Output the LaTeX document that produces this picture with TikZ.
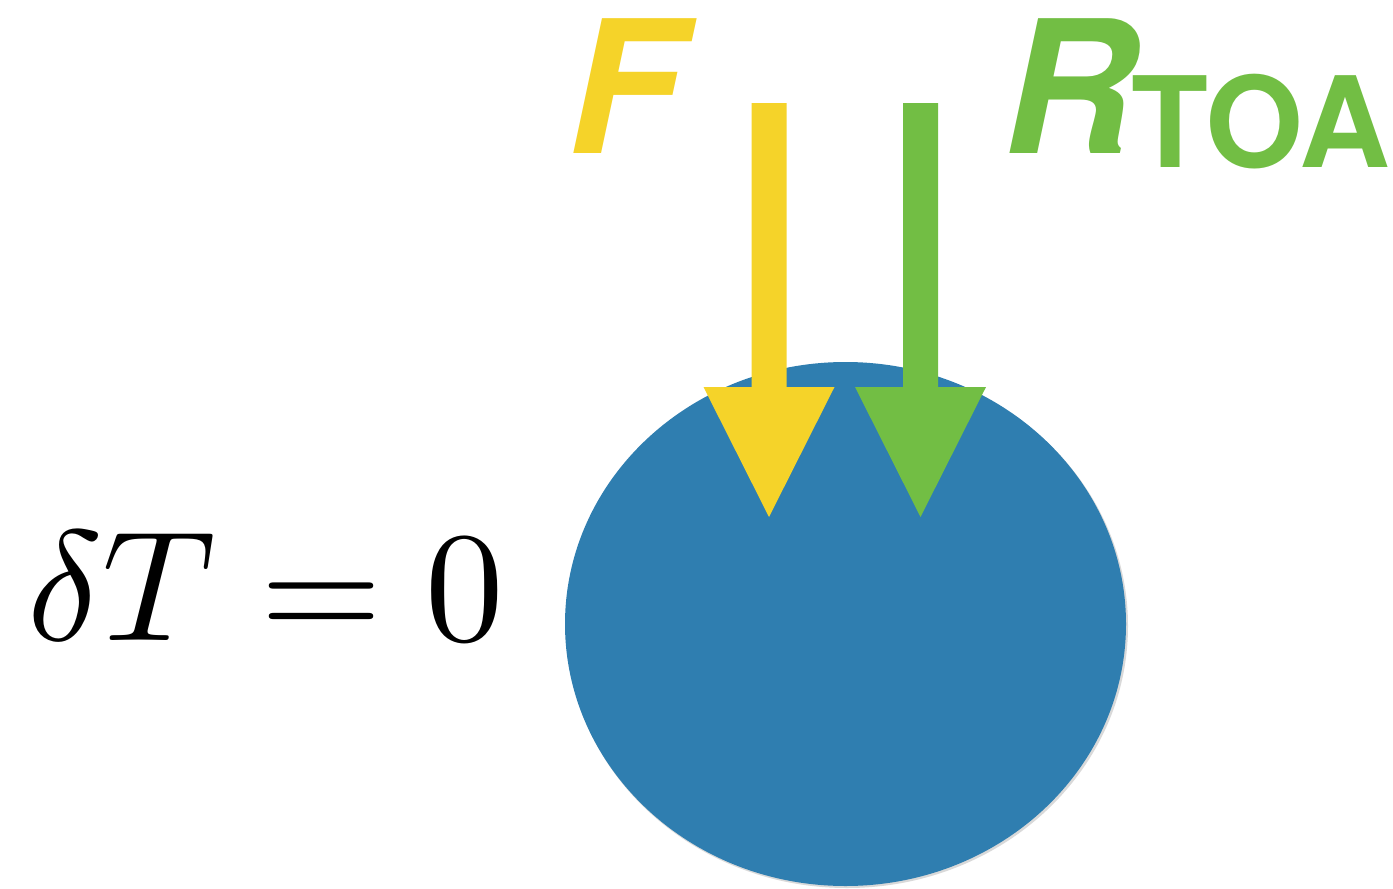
\documentclass[tikz,border=0pt]{standalone}
\usepackage{graphicx}
\usepackage{fontspec}
\newfontfamily\hsans{TeX Gyre Heros}
\usetikzlibrary{calc}
\definecolor{ballblue}{RGB}{47,126,176}
\definecolor{fyellow}{RGB}{245,211,41}
\definecolor{rgreen}{RGB}{114,190,68}
\tikzset{
  big/.style={inner sep=0pt, outer sep=0pt, anchor=base west, font=\hsans\bfseries\itshape\fontsize{185}{185}\selectfont},
  sub/.style={inner sep=0pt, outer sep=0pt, anchor=base west, font=\hsans\bfseries\fontsize{126}{126}\selectfont}
}
% fat downward arrow from #1 (top centre) to #2 (tip)
\newcommand{\fatarrow}[3]{%
  \fill[#3] ($(#1)+(-17.5,0)$) -- ($(#1)+(17.5,0)$) -- ($(#2)+(17.5,-130)$)
    -- ($(#2)+(65.5,-130)$) -- (#2) -- ($(#2)+(-65.5,-130)$) -- ($(#2)+(-17.5,-130)$) -- cycle;}
\begin{document}
\begin{tikzpicture}[x=1pt,y=-1pt]
\useasboundingbox (0,0) rectangle (1393,889);
% ball with faint shadow
\fill[black!15] (847,626) ellipse [x radius=281, y radius=262];
\fill[ballblue] (845.5,624) ellipse [x radius=280.5, y radius=262];
\coordinate (ball) at (845.5,624);
% arrows
\coordinate (ftop) at (769,103);
\coordinate (ftip) at (769,517);
\coordinate (rtop) at (920.5,103);
\coordinate (rtip) at (920.5,517);
\fatarrow{ftop}{ftip}{fyellow}
\fatarrow{rtop}{rtip}{rgreen}
% labels
\node[big, text=fyellow] (F) at (567,153) {F};
\node[big, text=rgreen] (R) at (1002,153) {R};
\node[sub, text=rgreen] (TOA) at (1131,167) {TOA};
\node[inner sep=0pt, anchor=base west] (eq) at (27,640) {\scalebox{15.7}{$\delta T = 0$}};
\end{tikzpicture}
\end{document}
